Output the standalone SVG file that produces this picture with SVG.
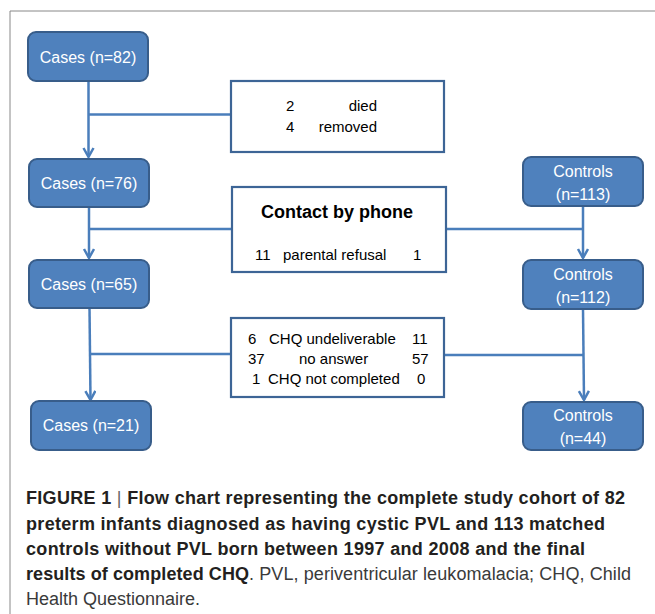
<svg xmlns="http://www.w3.org/2000/svg" width="655" height="614" viewBox="0 0 655 614">
<style>
.node{fill:#4F81BD;stroke:#385D8A;stroke-width:2}
.nt{font-family:"Liberation Sans",Arial,sans-serif;font-size:16px;fill:#fff;text-anchor:middle}
.box{fill:#fff;stroke:#3D6596;stroke-width:2.2}
.bt{font-family:"Liberation Sans",Arial,sans-serif;font-size:15px;fill:#000}
.conn{fill:none;stroke:#4A7EBB;stroke-width:2.5}
.cap{font-family:"Liberation Sans",Arial,Helvetica,sans-serif;font-size:18px;fill:#231F20}
</style>
<defs>
<marker id="arr" markerUnits="userSpaceOnUse" markerWidth="14" markerHeight="14" refX="10" refY="6" orient="auto" viewBox="0 0 14 14">
<path d="M1,1 L10,6 L1,11" fill="none" stroke="#4A7EBB" stroke-width="2.5"/>
</marker>
</defs>
<rect width="655" height="614" fill="#fff"/>
<path d="M10,614 V11 H655" fill="none" stroke="#888" stroke-width="1"/>
<g id="connectors">
<path class="conn" d="M88.5,81 V157" marker-end="url(#arr)"/>
<path class="conn" d="M88.5,114.5 H231"/>
<path class="conn" d="M89,207 V258" marker-end="url(#arr)"/>
<path class="conn" d="M89,229 H231"/>
<path class="conn" d="M583,206 V258" marker-end="url(#arr)"/>
<path class="conn" d="M446,229 H583"/>
<path class="conn" d="M89.5,308 L90.5,400" marker-end="url(#arr)"/>
<path class="conn" d="M90,354 H231"/>
<path class="conn" d="M583,309 L584,400" marker-end="url(#arr)"/>
<path class="conn" d="M444,355 H583.5"/>
</g>
<g id="cases82"><rect class="node" x="28" y="32" width="120" height="49" rx="8"/><text class="nt" x="88" y="62.5">Cases (n=82)</text></g>
<g id="cases76"><rect class="node" x="29" y="159" width="120" height="48" rx="8"/><text class="nt" x="89" y="189">Cases (n=76)</text></g>
<g id="cases65"><rect class="node" x="29" y="260" width="120" height="48" rx="8"/><text class="nt" x="89" y="290">Cases (n=65)</text></g>
<g id="cases21"><rect class="node" x="31" y="401" width="120" height="49" rx="8"/><text class="nt" x="91" y="431">Cases (n=21)</text></g>
<g id="controls113"><rect class="node" x="523" y="157" width="120" height="49" rx="8"/><text class="nt" x="583" y="177">Controls</text><text class="nt" x="583" y="200">(n=113)</text></g>
<g id="controls112"><rect class="node" x="523" y="260" width="120" height="49" rx="8"/><text class="nt" x="583" y="280">Controls</text><text class="nt" x="583" y="303">(n=112)</text></g>
<g id="controls44"><rect class="node" x="523" y="402" width="120" height="48" rx="8"/><text class="nt" x="583" y="421">Controls</text><text class="nt" x="583" y="444">(n=44)</text></g>
<g id="excluded">
<rect class="box" x="231" y="81" width="213" height="71"/>
<text class="bt" x="286" y="111">2</text><text class="bt" x="377" y="111" text-anchor="end">died</text>
<text class="bt" x="286" y="132">4</text><text class="bt" x="377" y="132" text-anchor="end">removed</text>
</g>
<g id="phone">
<rect class="box" x="232" y="187" width="214" height="85"/>
<text class="bt" x="337" y="218" text-anchor="middle" style="font-size:18px;font-weight:bold">Contact by phone</text>
<text class="bt" x="255" y="260">11</text><text class="bt" x="283" y="260">parental refusal</text><text class="bt" x="413" y="260">1</text>
</g>
<g id="chq">
<rect class="box" x="231" y="318" width="213" height="79"/>
<text class="bt" x="248" y="344">6</text><text class="bt" x="269" y="344">CHQ undeliverable</text><text class="bt" x="412" y="344">11</text>
<text class="bt" x="248" y="364">37</text><text class="bt" x="299" y="364">no answer</text><text class="bt" x="412" y="364">57</text>
<text class="bt" x="252" y="384">1</text><text class="bt" x="268" y="384">CHQ not completed</text><text class="bt" x="417" y="384">0</text>
</g>
<g id="caption">
<text class="cap" x="26" y="504" textLength="599" lengthAdjust="spacing" font-weight="bold">FIGURE 1 <tspan font-weight="normal" fill="#666">|</tspan> Flow chart representing the complete study cohort of 82</text>
<text class="cap" x="26" y="530" textLength="579" lengthAdjust="spacing" font-weight="bold">preterm infants diagnosed as having cystic PVL and 113 matched</text>
<text class="cap" x="26" y="555" textLength="559" lengthAdjust="spacing" font-weight="bold">controls without PVL born between 1997 and 2008 and the final</text>
<text class="cap" x="26" y="580" textLength="605" lengthAdjust="spacing"><tspan font-weight="bold">results of completed CHQ</tspan><tspan fill="#3a3a3a">. PVL, periventricular leukomalacia; CHQ, Child</tspan></text>
<text class="cap" x="26" y="605" style="fill:#3a3a3a">Health Questionnaire.</text>
</g>
</svg>
